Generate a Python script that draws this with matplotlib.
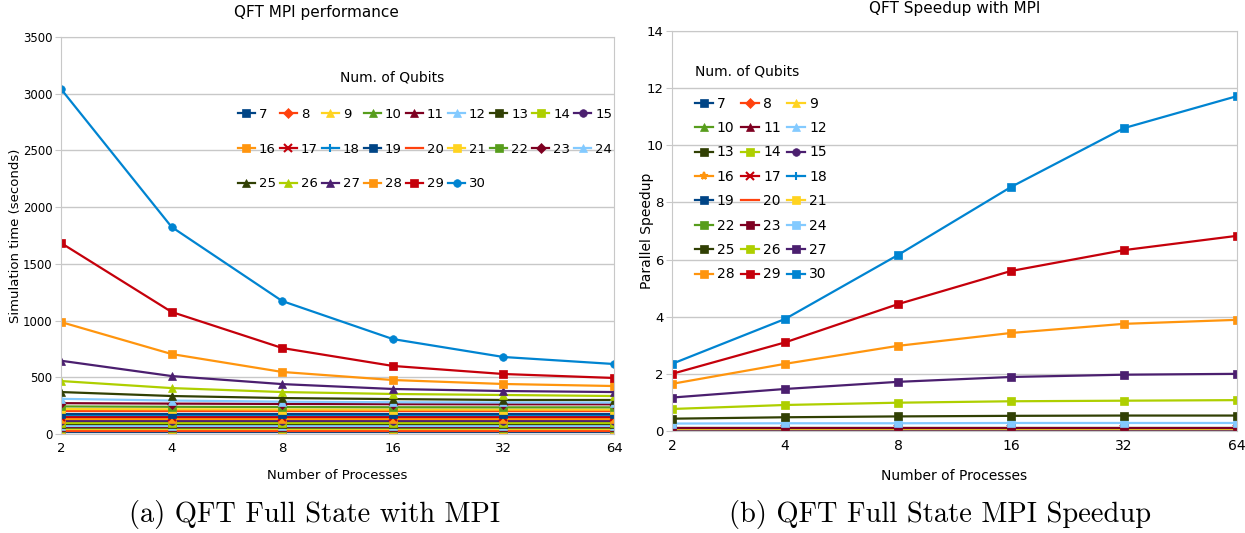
import numpy as np
import matplotlib.pyplot as plt

# Configuration
PROCS = [2, 4, 8, 16, 32, 64]
QUBITS = list(range(7, 31))

PALETTE = ["#004586", "#ff420e", "#ffd320", "#579d1c", "#7e0021", "#83caff",
           "#314004", "#aecf00", "#4b1f6f", "#ff950e", "#c5000b", "#0084d1"]

MARKERS_TIME = ["s", "D", "^", "^", "^", "^", "s", "s", "o", "s", "x", "+",
                "s", None, "s", "s", "D", "^", "^", "^", "^", "s", "s", "o"]
MARKERS_SPEED = ["s", "D", "^", "^", "^", "^", "s", "s", "o", "*", "x", "+",
                 "s", None, "s", "s", "s", "s", "s", "s", "s", "s", "s", "s"]

# simulation time (seconds), one list per qubit count
TIME = {
    7: [20, 20, 20, 20, 20, 20],
    8: [30, 30, 30, 30, 30, 30],
    9: [40, 40, 40, 40, 40, 40],
    10: [50, 50, 50, 50, 50, 50],
    11: [60, 60, 60, 60, 60, 60],
    12: [72, 72, 72, 72, 72, 72],
    13: [85, 85, 85, 85, 85, 85],
    14: [100, 100, 100, 100, 100, 100],
    15: [115, 115, 115, 115, 115, 115],
    16: [130, 130, 130, 130, 130, 130],
    17: [150, 150, 150, 150, 150, 150],
    18: [165, 165, 165, 165, 165, 165],
    19: [180, 180, 180, 180, 180, 180],
    20: [200, 200, 200, 200, 200, 200],
    21: [220, 218, 216, 215, 215, 215],
    22: [243, 240, 238, 236, 235, 235],
    23: [272, 268, 265, 263, 262, 262],
    24: [310, 295, 285, 280, 278, 277],
    25: [370, 335, 317, 308, 300, 300],
    26: [467, 405, 370, 353, 344, 335],
    27: [646, 511, 440, 397, 379, 370],
    28: [987, 705, 547, 476, 441, 423],
    29: [1684, 1076, 758, 600, 529, 494],
    30: [3041, 1825, 1172, 837, 679, 617],
}

# parallel speedup, one list per qubit count
SPEEDUP = {
    7: [0.01, 0.01, 0.01, 0.01, 0.01, 0.01],
    8: [0.015, 0.015, 0.015, 0.015, 0.015, 0.015],
    9: [0.02, 0.02, 0.02, 0.02, 0.02, 0.02],
    10: [0.025, 0.025, 0.025, 0.025, 0.025, 0.025],
    11: [0.03, 0.03, 0.03, 0.03, 0.03, 0.03],
    12: [0.035, 0.035, 0.035, 0.035, 0.035, 0.035],
    13: [0.04, 0.04, 0.04, 0.04, 0.04, 0.04],
    14: [0.045, 0.045, 0.045, 0.045, 0.045, 0.045],
    15: [0.05, 0.05, 0.05, 0.05, 0.05, 0.05],
    16: [0.055, 0.055, 0.055, 0.055, 0.055, 0.055],
    17: [0.06, 0.06, 0.06, 0.06, 0.06, 0.06],
    18: [0.065, 0.065, 0.065, 0.065, 0.065, 0.065],
    19: [0.07, 0.07, 0.07, 0.07, 0.07, 0.07],
    20: [0.075, 0.075, 0.075, 0.075, 0.075, 0.075],
    21: [0.08, 0.08, 0.08, 0.08, 0.08, 0.08],
    22: [0.09, 0.09, 0.09, 0.09, 0.09, 0.09],
    23: [0.12, 0.12, 0.12, 0.12, 0.12, 0.12],
    24: [0.26, 0.27, 0.27, 0.28, 0.28, 0.28],
    25: [0.43, 0.48, 0.51, 0.53, 0.54, 0.54],
    26: [0.77, 0.91, 0.99, 1.04, 1.06, 1.08],
    27: [1.17, 1.47, 1.72, 1.89, 1.97, 2.0],
    28: [1.65, 2.35, 2.98, 3.43, 3.75, 3.89],
    29: [2.0, 3.1, 4.44, 5.6, 6.33, 6.83],
    30: [2.35, 3.92, 6.16, 8.54, 10.6, 11.72],
}

GRID = "#c8c8c8"


def style_axes(ax):
    ax.set_xscale("log", base=2)
    ax.set_xlim(2, 64)
    ax.set_xticks(PROCS)
    ax.set_xticklabels([str(p) for p in PROCS])
    ax.minorticks_off()
    ax.grid(True, axis="y", color=GRID, linewidth=1)
    ax.set_axisbelow(True)
    for s in ax.spines.values():
        s.set_color(GRID)
    ax.tick_params(axis="x", length=0, pad=6, labelsize=9.5)
    ax.tick_params(axis="y", length=4, color=GRID, pad=2, labelsize=8.5)


def col_major(items, ncol):
    # legend fills columns first; reorder so it reads row by row
    out = []
    for c in range(ncol):
        out.extend(items[c::ncol])
    return out


fig = plt.figure(figsize=(12.45, 5.33), dpi=100)
ax1 = fig.add_axes([0.049, 0.1857, 0.4442, 0.745])
ax2 = fig.add_axes([0.5398, 0.1914, 0.4538, 0.7505])

h1 = []
for i, q in enumerate(QUBITS):
    m = MARKERS_TIME[i]
    ln, = ax1.plot(PROCS, TIME[q], color=PALETTE[i % 12], linewidth=1.6,
                   marker=m if m else None, markersize=5.5, label=str(q),
                   markeredgewidth=1.5 if m in ("x", "+") else 0.5)
    h1.append(ln)

h2 = []
for i, q in enumerate(QUBITS):
    m = MARKERS_SPEED[i]
    ln, = ax2.plot(PROCS, SPEEDUP[q], color=PALETTE[i % 12], linewidth=1.6,
                   marker=m if m else None, markersize=5.5, label=str(q),
                   markeredgewidth=1.5 if m in ("x", "+", "*") else 0.5)
    h2.append(ln)

style_axes(ax1)
ax1.set_ylim(0, 3500)
ax1.set_yticks(range(0, 3501, 500))
ax1.set_title("QFT MPI performance", fontsize=11, pad=14, x=0.461)
ax1.set_xlabel("Number of Processes", fontsize=9.5, labelpad=10)
ax1.set_ylabel("Simulation time (seconds)", fontsize=9.5)
ax1.yaxis.set_label_coords(-0.07, 0.5)

style_axes(ax2)
ax2.tick_params(axis="x", labelsize=10)
ax2.tick_params(axis="y", labelsize=9.5)
ax2.set_ylim(0, 14)
ax2.set_yticks(range(0, 15, 2))
ax2.set_title("QFT Speedup with MPI", fontsize=11, pad=13)
ax2.set_xlabel("Number of Processes", fontsize=10, labelpad=11)
ax2.set_ylabel("Parallel Speedup", fontsize=10)
ax2.yaxis.set_label_coords(-0.032, 0.5)

ax1.text(0.599, 0.897, "Num. of Qubits", transform=ax1.transAxes,
         fontsize=10, ha="center", va="center")
leg1 = ax1.legend(col_major(h1, 9), col_major([str(q) for q in QUBITS], 9),
                  ncol=9, fontsize=9.5,
                  frameon=False, loc="upper left", bbox_to_anchor=(0.31, 0.835),
                  handlelength=1.3, handletextpad=0.3, columnspacing=0.3,
                  labelspacing=1.65, borderaxespad=0)

leg2 = ax2.legend(col_major(h2, 3), col_major([str(q) for q in QUBITS], 3),
                  ncol=3, title="Num. of Qubits", title_fontsize=10, fontsize=10,
                  frameon=False, loc="upper left", bbox_to_anchor=(0.03, 0.93),
                  handlelength=1.3, handletextpad=0.3, columnspacing=0.45,
                  labelspacing=0.75, borderaxespad=0, alignment="left")
leg2._legend_box.sep = 13

fig.text(0.2525, 0.02, "(a) QFT Full State with MPI", family="cmr10",
         fontsize=20.5, ha="center", va="baseline")
fig.text(0.755, 0.02, "(b) QFT Full State MPI Speedup", family="cmr10",
         fontsize=20.5, ha="center", va="baseline")

plt.savefig("out.png", dpi=100)
plt.close()
